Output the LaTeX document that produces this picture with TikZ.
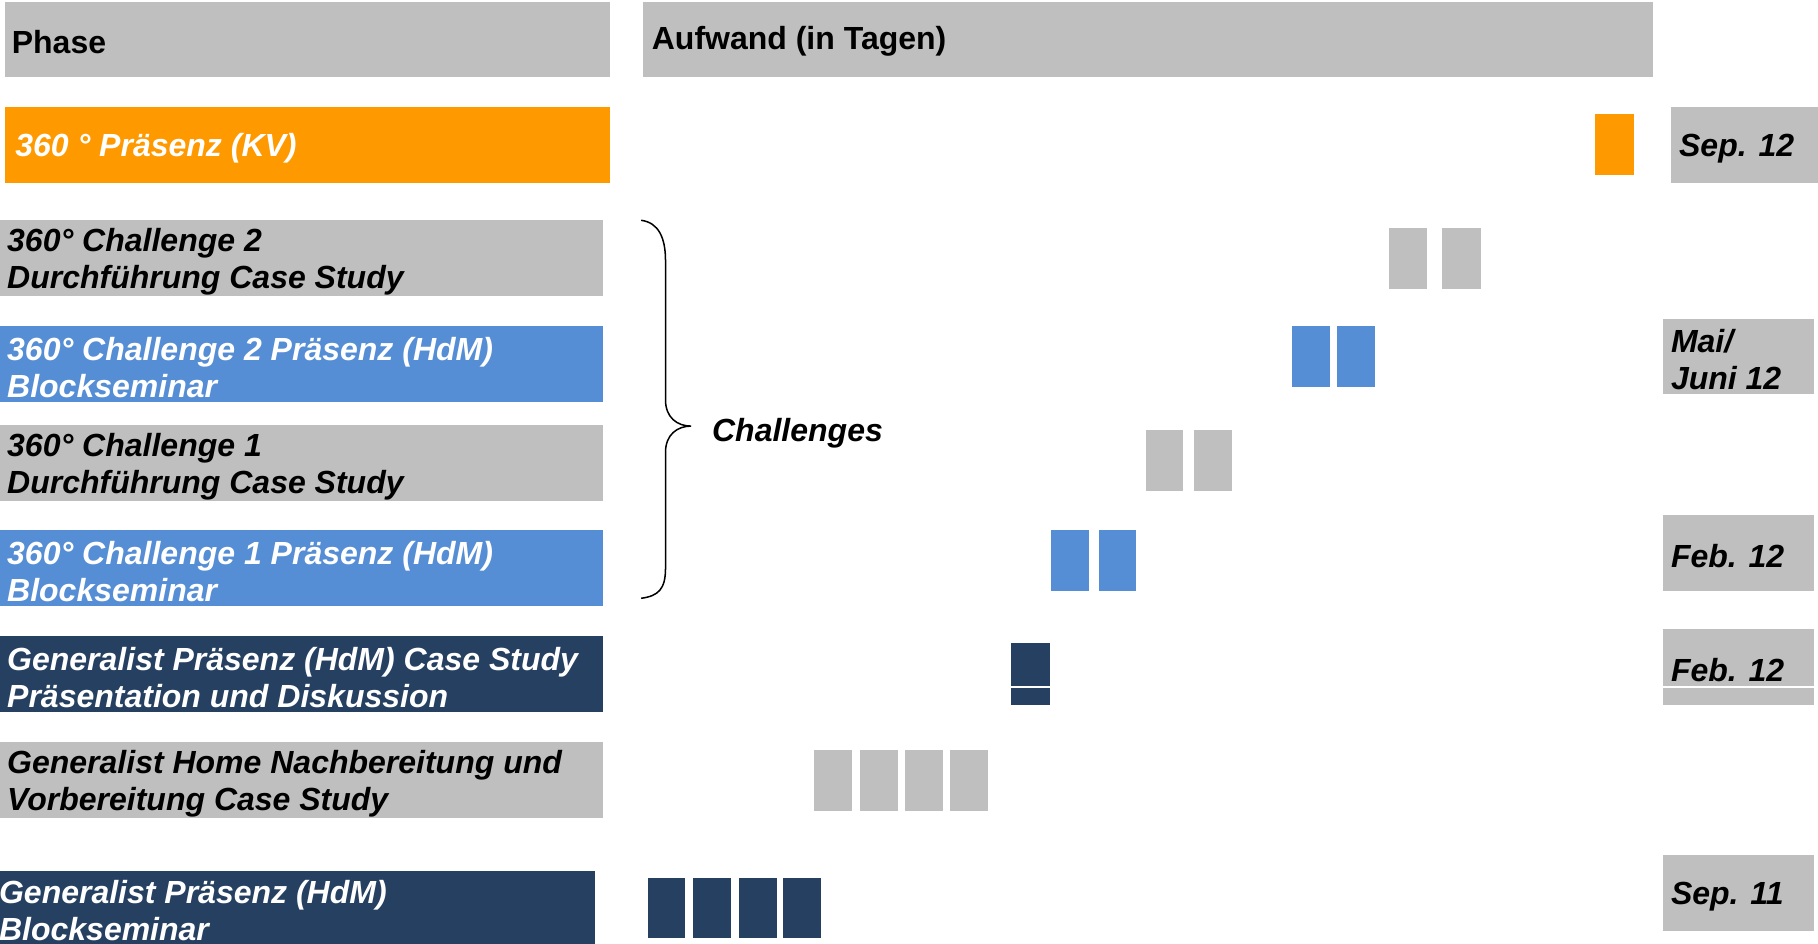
\documentclass[tikz,border=0pt]{standalone}
\usepackage{fontspec}
\setmainfont{Liberation Sans}
\definecolor{grayc}{HTML}{BFBFBF}
\definecolor{orangec}{HTML}{FF9900}
\definecolor{bluec}{HTML}{558ED5}
\definecolor{navyc}{HTML}{254061}
\tikzset{
  boxr/.style={inner sep=0pt, outer sep=0pt, draw=none, anchor=north west},
  lbl/.style={anchor=west, inner sep=0pt, align=left, yshift=-3pt, font=\fontsize{27.6}{32}\selectfont\bfseries\itshape},
  hlbl/.style={anchor=west, inner sep=0pt, yshift=-2pt, font=\fontsize{27.6}{32}\selectfont\bfseries},
}
\newcommand\bx[6]{\node[boxr, fill=#2, minimum width=#5pt, minimum height=#6pt] (#1) at (#3,#4) {};}
\begin{document}
\begin{tikzpicture}[x=1pt,y=-1pt]
\useasboundingbox[fill=white] (0,0) rectangle (1568,814);
% headers
\bx{hphase}{grayc}{4}{2}{522}{64}
\bx{haufw}{grayc}{555}{2}{871}{64}
\node[hlbl] (tphase) at (10,34) {Phase};
\node[hlbl] (taufw) at (562,34) {Aufwand (in Tagen)};
% KV row
\bx{rkv}{orangec}{4}{92}{522}{65.5}
\bx{bkv}{orangec}{1376}{98.3}{33}{52.4}
\bx{dsep12}{grayc}{1441}{92}{127}{65.6}
\node[lbl, text=white] (tkv) at (13,125) {360 ° Präsenz (KV)};
\node[lbl] (tsep12) at (1448,125) {Sep. 12};
% Challenge 2 Durchfuehrung
\bx{rc2d}{grayc}{0}{189.8}{520}{65.2}
\bx{bc2da}{grayc}{1197.8}{196.7}{32.6}{52.3}
\bx{bc2db}{grayc}{1243.8}{196.7}{33.2}{52.3}
\node[lbl] (tc2d) at (6,222.4) {360° Challenge 2\\Durchführung Case Study};
% Challenge 2 Praesenz
\bx{rc2p}{bluec}{0}{281.2}{520}{65.3}
\bx{bc2pa}{bluec}{1114.3}{281.2}{33}{52.3}
\bx{bc2pb}{bluec}{1153.4}{281.2}{32.5}{52.3}
\bx{dmai}{grayc}{1434.2}{275.2}{130.6}{64.4}
\node[lbl, text=white] (tc2p) at (6,313.8) {360° Challenge 2 Präsenz (HdM)\\Blockseminar};
\node[lbl] (tmai) at (1441,307.4) {Mai/\\Juni 12};
% Challenge 1 Durchfuehrung
\bx{rc1d}{grayc}{0}{366.6}{520}{65.3}
\bx{bc1da}{grayc}{988.1}{370.9}{32.6}{52.3}
\bx{bc1db}{grayc}{1029.7}{370.9}{32.5}{52.3}
\node[lbl] (tc1d) at (6,399.2) {360° Challenge 1\\Durchführung Case Study};
% Challenge 1 Praesenz
\bx{rc1p}{bluec}{0}{457.1}{520}{65.3}
\bx{bc1pa}{bluec}{906.5}{457.1}{33.1}{52.4}
\bx{bc1pb}{bluec}{947.6}{457.1}{32.5}{52.4}
\bx{dfeb1}{grayc}{1434.2}{444.2}{130.6}{65.3}
\node[lbl, text=white] (tc1p) at (6,489.8) {360° Challenge 1 Präsenz (HdM)\\Blockseminar};
\node[lbl] (tfeb1) at (1441,476.9) {Feb. 12};
% Generalist case study
\bx{rgcs}{navyc}{0}{548.6}{520}{65.2}
\bx{bgcs}{navyc}{872}{554.6}{34}{53.2}
\bx{dfeb2}{grayc}{1434.2}{542.5}{130.6}{65.3}
\draw[white, line width=1.5pt] (bgcs.west |- 0,592.8) -- (bgcs.east |- 0,592.8);
\draw[white, line width=1.5pt] (dfeb2.west |- 0,592.8) -- (dfeb2.east |- 0,592.8);
\node[lbl, text=white] (tgcs) at (6,581.2) {Generalist Präsenz (HdM) Case Study\\Präsentation und Diskussion};
\node[lbl] (tfeb2) at (1441,575) {Feb. 12};
% Generalist home
\bx{rgh}{grayc}{0}{640}{520}{65.3}
\bx{bgha}{grayc}{702.3}{647}{32.2}{52.3}
\bx{bghb}{grayc}{741.9}{647}{32.2}{52.3}
\bx{bghc}{grayc}{780.4}{647}{33.2}{52.3}
\bx{bghd}{grayc}{819.4}{647}{33.1}{52.3}
\node[lbl] (tgh) at (6,672.6) {Generalist Home Nachbereitung und\\Vorbereitung Case Study};
% Generalist Blockseminar
\bx{rgpb}{navyc}{0}{751.3}{513}{63}
\bx{bgpa}{navyc}{559.2}{757.3}{32}{52}
\bx{bgpb}{navyc}{597.7}{757.3}{32.5}{52}
\bx{bgpc}{navyc}{637.2}{757.3}{32.6}{52}
\bx{bgpd}{navyc}{675.3}{757.3}{32.5}{52}
\bx{dsep11}{grayc}{1434.2}{737.5}{130.6}{65.2}
\node[lbl, text=white] (tgpb) at (-1,782.6) {Generalist Präsenz (HdM)\\Blockseminar};
\node[lbl] (tsep11) at (1441,770) {Sep. 11};
% brace
\coordinate (brtop) at (553,190);
\coordinate (brtip) at (596,367.5);
\coordinate (brbot) at (553,516);
\draw[line width=1.3pt] (brtop) .. controls (568,192) and (574,205) .. (574,225) -- (574,345)
  .. controls (574,360) and (584,367.5) .. (brtip)
  .. controls (584,367.5) and (574,375) .. (574,390) -- (574,490)
  .. controls (574,508) and (568,514) .. (brbot);
\node[lbl] (tchal) at (614,370.5) {Challenges};
\end{tikzpicture}
\end{document}
